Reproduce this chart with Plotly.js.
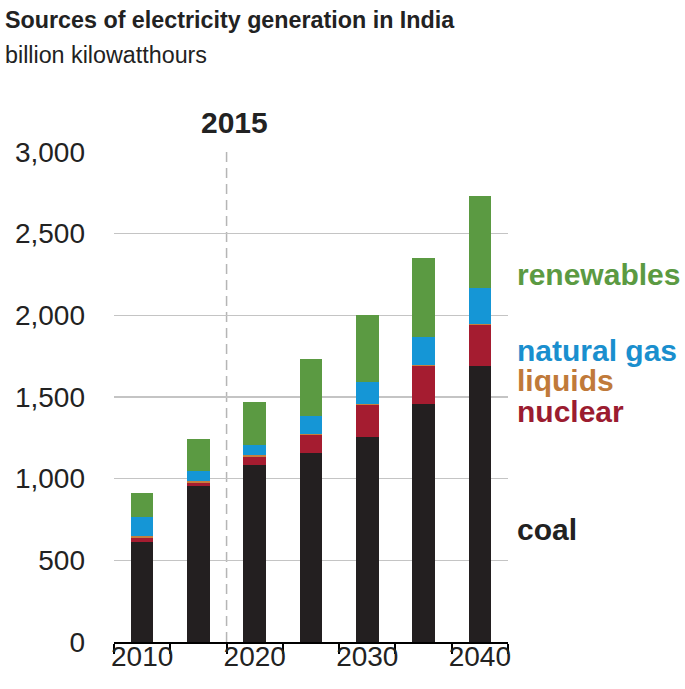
<!DOCTYPE html>
<html>
<head>
<meta charset="utf-8">
<script src="https://cdn.plot.ly/plotly-3.0.1.min.js"></script>
<style>html,body{margin:0;padding:0;background:#fff;}#chart{width:685px;height:689px;}</style>
</head>
<body>
<div id="chart"></div>
<script>
const years = [2010, 2015, 2020, 2025, 2030, 2035, 2040];
const coal = [614, 955, 1085, 1160, 1253, 1460, 1690];
const nuclear = [23, 20, 50, 105, 200, 232, 248];
const liquids = [12, 10, 8, 6, 6, 6, 6];
const naturalGas = [118, 62, 65, 110, 135, 170, 225];
const renewables = [147, 195, 262, 350, 410, 482, 562];
const xTickVals = [2010, 2020, 2030, 2040];
const xTickText = ['2010', '2020', '2030', '2040'];
const xBoundaries = [2007.5, 2012.5, 2017.5, 2022.5, 2027.5, 2032.5, 2037.5, 2042.5];
const yTickVals = [0, 500, 1000, 1500, 2000, 2500, 3000];
const yTickText = ['0', '500', '1,000', '1,500', '2,000', '2,500', '3,000'];
const historyDivider = 2017.5;

const FONT = 'Liberation Sans, Arial, sans-serif';
const colors = {
  coal: '#231f20', nuclear: '#a51c30', liquids: '#c67f3e', gas: '#1596d6', renew: '#5b9a42'
};
const textColors = {
  coal: '#222222', nuclear: '#9b1c30', liquids: '#c07a3a', gas: '#1a8fce', renew: '#5b9a42'
};

function bar(name, vals, color) {
  return {type: 'bar', name: name, x: years, y: vals, width: 2,
    marker: {color: color, line: {width: 0}}, hoverinfo: 'skip'};
}

const data = [
  bar('coal', coal, colors.coal),
  bar('nuclear', nuclear, colors.nuclear),
  bar('liquids', liquids, colors.liquids),
  bar('natural gas', naturalGas, colors.gas),
  bar('renewables', renewables, colors.renew)
];

function lab(text, x, y, color, size, bold, anchor) {
  return {xref: 'paper', yref: 'paper', x: x, y: y, xanchor: anchor || 'left', yanchor: 'middle',
    text: bold ? '<b>' + text + '</b>' : text, showarrow: false,
    font: {family: FONT, size: size, color: color}};
}

const layout = {
  width: 685, height: 689,
  margin: {l: 114, r: 177, t: 152, b: 47},
  paper_bgcolor: '#ffffff', plot_bgcolor: '#ffffff',
  barmode: 'stack', showlegend: false,
  font: {family: FONT, color: '#222222'},
  xaxis: {
    range: [2007.5, 2042.5], tickmode: 'array', tickvals: xTickVals, ticktext: xTickText,
    ticks: '', showgrid: false, zeroline: false, ticklabelstandoff: -12,
    showline: true, linecolor: '#000000', linewidth: 2,
    tickfont: {family: FONT, size: 28, color: '#222222'},
    minor: {tickmode: 'array', tickvals: xBoundaries, ticks: 'outside', ticklen: 10, tickwidth: 2, tickcolor: '#000000', showgrid: false},
    fixedrange: true
  },
  yaxis: {
    range: [0, 3000], tickmode: 'array', tickvals: yTickVals, ticktext: yTickText,
    ticks: '', showgrid: true, gridcolor: '#c4c4c4', gridwidth: 1.5, zeroline: false,
    showline: false, ticklabelstandoff: 28,
    tickfont: {family: FONT, size: 28, color: '#222222'},
    fixedrange: true
  },
  shapes: [{
    type: 'line', xref: 'x', yref: 'y', x0: historyDivider, x1: historyDivider, y0: 0, y1: 3000,
    line: {color: '#b5b5b5', width: 1.5, dash: '10px,6px'}, layer: 'below'
  }],
  annotations: [
    lab('Sources of electricity generation in India', -0.2817, 1.2694, '#222222', 23.3, true),
    lab('billion kilowatthours', -0.2817, 1.198, '#222222', 23.3, false),
    lab('2015', 0.3046, 1.0612, '#222222', 30, true, 'center'),
    lab('renewables', 1.0178, 0.751, textColors.renew, 30, true),
    lab('natural gas', 1.0178, 0.5959, textColors.gas, 30, true),
    lab('liquids', 1.0178, 0.5327, textColors.liquids, 30, true),
    lab('nuclear', 1.0178, 0.4695, textColors.nuclear, 30, true),
    lab('coal', 1.0178, 0.2287, textColors.coal, 30, true)
  ]
};

Plotly.newPlot('chart', data, layout, {displayModeBar: false, staticPlot: true});
</script>
</body>
</html>
